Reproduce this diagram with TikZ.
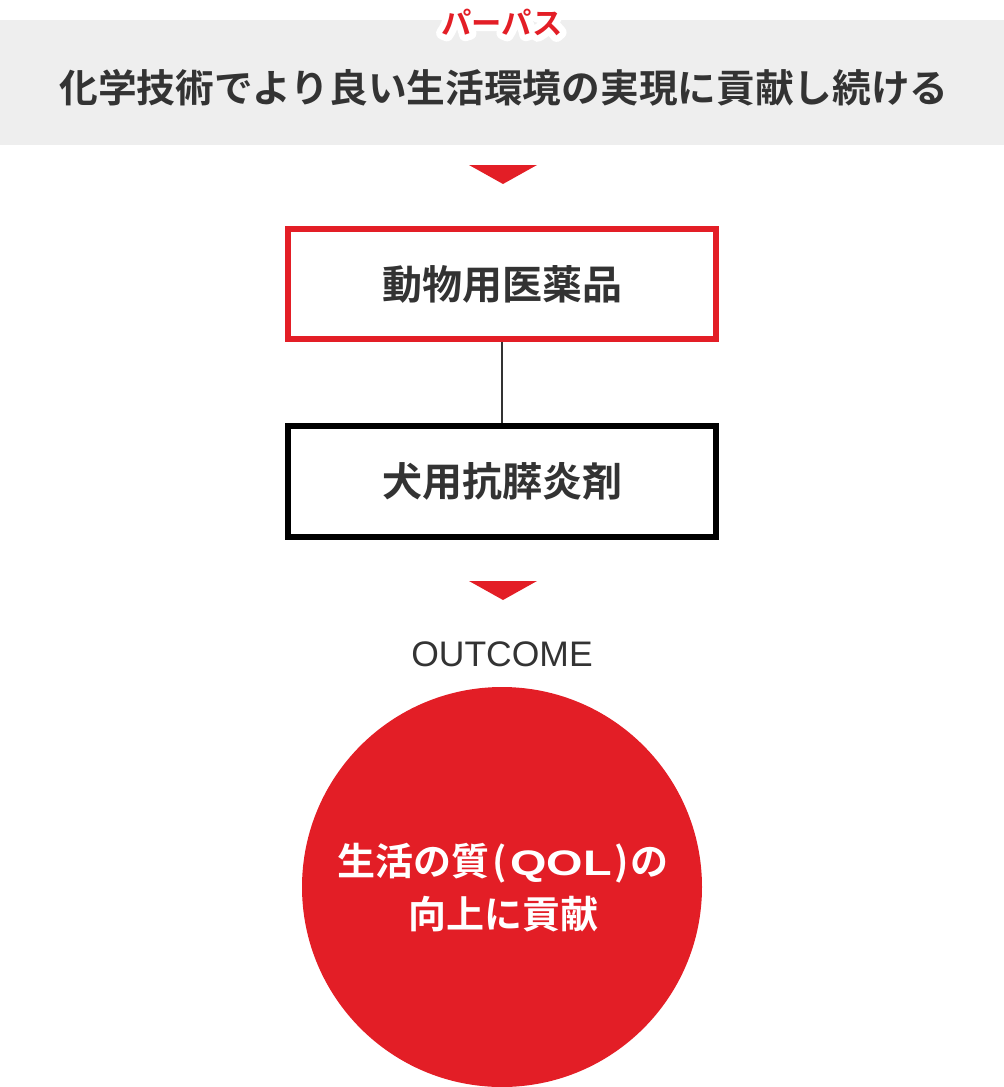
\documentclass[tikz,border=0pt]{standalone}
\usepackage{fontspec}
\setmainfont{Noto Sans CJK JP}[BoldFont={Noto Sans CJK JP Bold}]
\newfontfamily\latinsans{Liberation Sans}
\newfontfamily\widebold[FakeStretch=1.32]{Liberation Sans Bold}
\definecolor{brandred}{HTML}{E31E26}
\definecolor{bandgray}{HTML}{EEEEEE}
\definecolor{ink}{HTML}{333333}
\newcommand{\halostroke}{\special{pdf:literal direct 2 Tr 1 1 1 rg 1 1 1 RG 13 w 1 j 1 J}}
\tikzset{
  stepbox/.style={draw, line width=6pt, minimum width=428pt, minimum height=110pt, inner sep=0pt,
    font=\fontsize{40}{48}\selectfont\bfseries, text=ink},
  marker/.style={fill=brandred, draw=none},
  link/.style={draw=ink, line width=2pt},
  tag/.style={font=\fontsize{30.3}{34}\selectfont\bfseries},
}
\begin{document}
\begin{tikzpicture}[x=1pt,y=1pt]
\useasboundingbox (0,0) rectangle (1004,-1087);
% purpose band
\fill[bandgray] (0,-20) rectangle (1004,-145);
\node[font=\fontsize{38.7}{46}\selectfont\bfseries, text=ink] (purpose) at (504,-88) {化学技術でより良い生活環境の実現に貢献し続ける};
% label with white halo
\node[tag, text=white] (halo) at (502,-22) {\halostroke パーパス};
\node[tag, text=brandred] (label) at (502,-22) {パーパス};
% arrow 1
\fill[marker] (469,-165) -- (537,-165) -- (503,-184) -- cycle;
% boxes
\node[stepbox, draw=brandred] (drug) at (502,-284) {動物用医薬品};
\node[stepbox, draw=black, minimum height=111pt] (product) at (502,-481.5) {犬用抗膵炎剤};
\draw[link] (drug.south) -- (product.north);
% arrow 2
\fill[marker] (469,-581) -- (537,-581) -- (503,-600) -- cycle;
\node[font=\fontsize{35.5}{40}\selectfont\latinsans, text=ink] (outcome) at (502,-654) {OUTCOME};
\node[circle, fill=brandred, minimum size=400pt, inner sep=0pt] (qol) at (502,-887) {};
\node[font=\fontsize{38}{53}\selectfont\bfseries, text=white, align=center] (qoltext) at (503,-888) {生活の質\hspace{3pt}(\hspace{3pt}{\fontsize{35.5}{40}\widebold QOL}\hspace{3pt})\hspace{1pt}の\\向上に貢献};
\end{tikzpicture}
\end{document}
